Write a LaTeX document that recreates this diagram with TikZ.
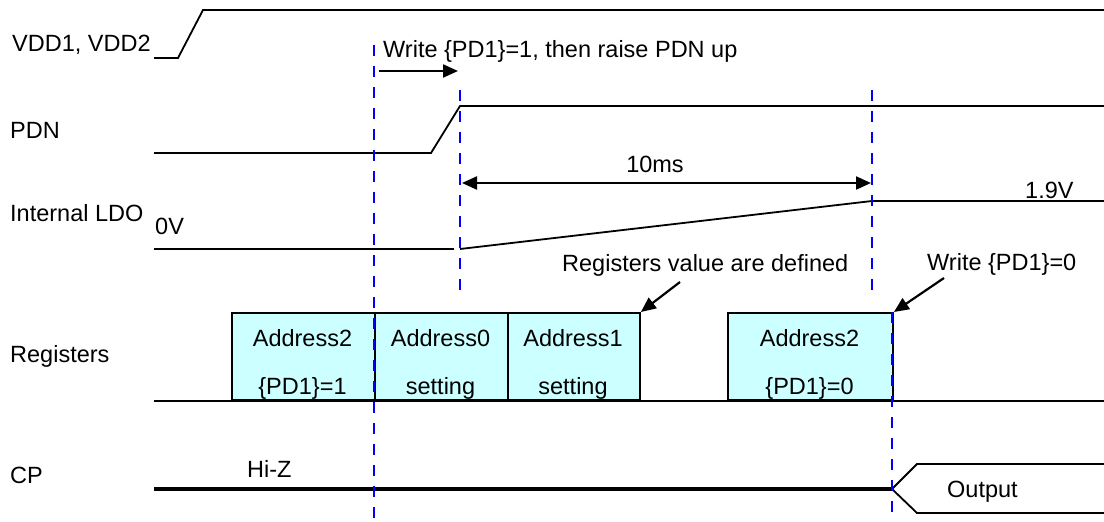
\documentclass[tikz,border=0pt]{standalone}
\usepackage{fontspec}
\setmainfont{Liberation Sans}
\usetikzlibrary{arrows.meta}
\definecolor{regfill}{HTML}{CCFFFF}
\definecolor{dashblue}{HTML}{0000FF}
\begin{document}
\begin{tikzpicture}[x=1pt,y=-1pt,
  txt/.style={inner sep=0pt,anchor=base west,font=\fontsize{23.5}{26}\selectfont},
  ctxt/.style={inner sep=0pt,anchor=base,font=\fontsize{23.5}{26}\selectfont},
  sig/.style={line width=1.8pt,line join=miter},
  thicksig/.style={line width=4.3pt},
  vdash/.style={draw=dashblue,line width=2.6pt,dash pattern=on 11pt off 10pt},
  regbox/.style={draw=black,line width=1.9pt,fill=regfill,inner sep=0pt},
  arr/.style={line width=2.2pt,-{Triangle[length=15pt,width=13pt]}},
  darr/.style={line width=2.2pt,{Triangle[length=15pt,width=13pt]}-{Triangle[length=15pt,width=13pt]}}]
\useasboundingbox (0,0) rectangle (1104,522);
\fill[white] (0,0) rectangle (1104,522);

% labels
\node[txt] (lvdd) at (12,51) {VDD1, VDD2};
\node[txt] (lpdn) at (10,138) {PDN};
\node[txt] (lldo) at (10,221) {Internal LDO};
\node[txt] (l0v) at (155,234) {0V};
\node[txt] (lreg) at (10,362) {Registers};
\node[txt] (lcp) at (10,483) {CP};

% VDD
\draw[sig] (154,58) -- (178,58) -- (203,10) -- (1104,10);
% PDN
\draw[sig] (154,153) -- (431,153) -- (460,106) -- (1104,106);
% LDO
\draw[sig] (154,249) -- (454,249);
\draw[sig] (460,249) -- (872,201) -- (1104,201);
\node[txt] (l19) at (1025,198) {1.9V};
% Registers baseline
\draw[sig] (154,401) -- (1104,401);

% register boxes
\node[regbox,minimum width=143pt,minimum height=87pt,anchor=north west] (b1) at (231,312) {};
\node[regbox,minimum width=133pt,minimum height=87pt,anchor=north west] (b2) at (374,312) {};
\node[regbox,minimum width=132pt,minimum height=87pt,anchor=north west] (b3) at (507,312) {};
\node[regbox,minimum width=165pt,minimum height=87pt,anchor=north west] (b4) at (727,312) {};
\node[ctxt] (t1a) at (302.5,346) {Address2};
\node[ctxt] (t1b) at (302.5,394) {\{PD1\}=1};
\node[ctxt] (t2a) at (440.5,346) {Address0};
\node[ctxt] (t2b) at (440.5,394) {setting};
\node[ctxt] (t3a) at (573,346) {Address1};
\node[ctxt] (t3b) at (573,394) {setting};
\node[ctxt] (t4a) at (809.5,346) {Address2};
\node[ctxt] (t4b) at (809.5,394) {\{PD1\}=0};

% CP
\draw[thicksig] (154,489) -- (892,489);
\node[txt] (lhiz) at (247,477) {Hi-Z};
\draw[sig] (1104,464) -- (917,464) -- (892,489) -- (917,513) -- (1104,513);
\node[txt] (lout) at (947,497) {Output};

% dashed markers
\draw[vdash] (374,45) -- (374,522);
\draw[vdash] (460,90) -- (460,296);
\draw[vdash] (872,90) -- (872,296);
\draw[vdash] (892,312) -- (892,522);

% annotations
\node[txt] (lwrite) at (383,57) {Write \{PD1\}=1, then raise PDN up};
\coordinate (wa) at (379,71);
\coordinate (wb) at (458,71);
\draw[arr] (wa) -- (wb);

\node[ctxt] (l10) at (655,172) {10ms};
\coordinate (ta) at (462,183);
\coordinate (tb) at (871,183);
\draw[darr] (ta) -- (tb);

\node[txt] (ldef) at (562,271) {Registers value are defined};
\coordinate (da) at (680,282);
\draw[arr] (da) -- (b3.north east);

\node[txt] (lw0) at (927,270) {Write \{PD1\}=0};
\coordinate (ea) at (944,278);
\draw[arr] (ea) -- (b4.north east);
\end{tikzpicture}
\end{document}
